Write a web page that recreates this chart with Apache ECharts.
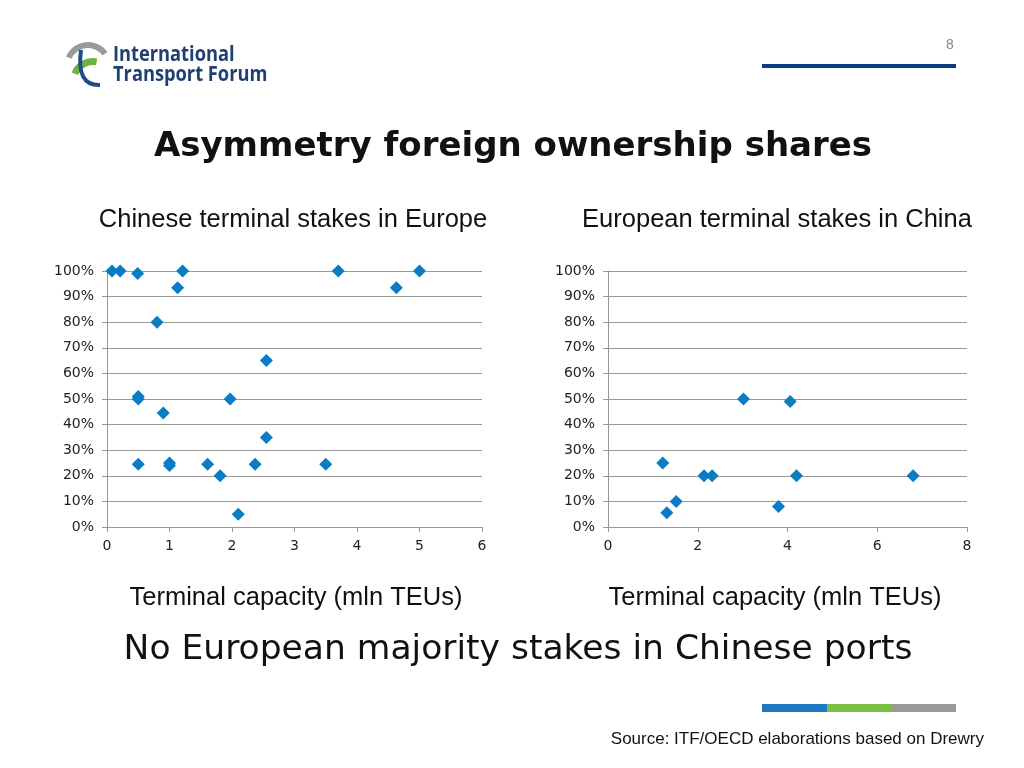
<!DOCTYPE html>
<html>
<head>
<meta charset="utf-8">
<script src="https://cdn.jsdelivr.net/npm/echarts@6/dist/echarts.min.js"></script>
<style>
  html, body { margin: 0; padding: 0; background: #fff; }
  #chart { width: 1024px; height: 768px; }
</style>
</head>
<body>
<div id="chart"></div>
<script>
// Chinese terminal stakes in Europe (capacity mln TEU, share)
const europeCapacity = [0.08, 0.21, 0.49, 1.21, 1.13, 0.8, 3.7, 4.63, 5.0, 2.55, 0.5, 0.5, 1.97, 0.9, 2.55, 0.5, 1.0, 1.0, 1.61, 1.81, 2.37, 3.5, 2.1];
const europeShare = [1.0, 1.0, 0.99, 1.0, 0.935, 0.8, 1.0, 0.935, 1.0, 0.65, 0.51, 0.5, 0.5, 0.445, 0.35, 0.245, 0.25, 0.24, 0.245, 0.2, 0.245, 0.245, 0.05];

// European terminal stakes in China
const chinaCapacity = [3.02, 4.06, 1.22, 2.14, 2.32, 4.2, 6.8, 1.52, 1.31, 3.8];
const chinaShare = [0.5, 0.49, 0.25, 0.2, 0.2, 0.2, 0.2, 0.1, 0.056, 0.08];

const leftXTicks = [0, 6, 1];   // min, max, interval
const rightXTicks = [0, 8, 2];

const pts = (xs, ys) => xs.map((x, i) => [x, ys[i]]);

const chart = echarts.init(document.getElementById("chart"));

const tickFont = { color: "#222", fontSize: 14, fontFamily: "DejaVu Sans, Verdana, sans-serif" };

const makeX = (i, t) => ({
  gridIndex: i,
  type: "value",
  min: t[0], max: t[1], interval: t[2],
  axisLine: { show: true, onZero: false, lineStyle: { color: "#999", width: 1 } },
  axisTick: { show: true, length: 5, lineStyle: { color: "#999" } },
  splitLine: { show: false },
  axisLabel: { ...tickFont, margin: 12 }
});

const makeY = (i) => ({
  gridIndex: i,
  type: "value",
  min: 0, max: 1, interval: 0.1,
  axisLine: { show: true, lineStyle: { color: "#999", width: 1 } },
  axisTick: { show: true, length: 5, lineStyle: { color: "#999" } },
  splitLine: { show: true, lineStyle: { color: "#999", width: 1 } },
  axisLabel: { ...tickFont, margin: 13, formatter: (v) => Math.round(v * 100) + "%" }
});

const dot = { color: "#0a7cc4", opacity: 1 };

const sans = "'Liberation Sans', Arial, sans-serif";

const option = {
  backgroundColor: "#fff",
  animation: false,
  grid: [
    { left: 107, right: 542, top: 271, bottom: 241 },
    { left: 608, right: 57, top: 271, bottom: 241 }
  ],
  xAxis: [makeX(0, leftXTicks), makeX(1, rightXTicks)],
  yAxis: [makeY(0), makeY(1)],
  series: [
    { type: "scatter", xAxisIndex: 0, yAxisIndex: 0, symbol: "diamond", symbolSize: 13, itemStyle: dot, data: pts(europeCapacity, europeShare) },
    { type: "scatter", xAxisIndex: 1, yAxisIndex: 1, symbol: "diamond", symbolSize: 13, itemStyle: dot, data: pts(chinaCapacity, chinaShare) }
  ],
  graphic: [
    // logo
    { type: "sector", shape: { cx: 88, cy: 66, r: 24, r0: 18, startAngle: Math.PI * 1.13, endAngle: Math.PI * 1.8 }, style: { fill: "#9a9a9a" } },
    { type: "sector", shape: { cx: 93, cy: 81, r: 23, r0: 16, startAngle: Math.PI * 1.12, endAngle: Math.PI * 1.56 }, style: { fill: "#6cb33f" } },
    { type: "bezierCurve", shape: { x1: 81, y1: 50, cpx1: 76, cpy1: 86, x2: 100, y2: 85 }, style: { stroke: "#1b4f86", lineWidth: 4, fill: null } },
    { type: "text", x: 113, y: 45, scaleX: 0.87, style: { text: "International", fill: "#1d3f72", font: "bold 21px 'Open Sans', sans-serif" } },
    { type: "text", x: 113, y: 65, scaleX: 0.87, style: { text: "Transport Forum", fill: "#1d3f72", font: "bold 21px 'Open Sans', sans-serif" } },
    // page number and top rule
    { type: "text", x: 950, y: 38, style: { text: "8", fill: "#888", align: "center", font: "14px " + sans } },
    { type: "rect", shape: { x: 762, y: 64, width: 194, height: 4 }, style: { fill: "#0b3d7c" } },
    // titles
    { type: "text", x: 513, y: 130, style: { text: "Asymmetry foreign ownership shares", fill: "#111", align: "center", font: "bold 34px 'DejaVu Sans', Verdana, sans-serif" } },
    { type: "text", x: 293, y: 207, style: { text: "Chinese terminal stakes in Europe", fill: "#111", align: "center", font: "25.5px " + sans } },
    { type: "text", x: 777, y: 207, style: { text: "European terminal stakes in China", fill: "#111", align: "center", font: "25.5px " + sans } },
    { type: "text", x: 296, y: 585, style: { text: "Terminal capacity (mln TEUs)", fill: "#111", align: "center", font: "25.5px " + sans } },
    { type: "text", x: 775, y: 585, style: { text: "Terminal capacity (mln TEUs)", fill: "#111", align: "center", font: "25.5px " + sans } },
    { type: "text", x: 518, y: 633, style: { text: "No European majority stakes in Chinese ports", fill: "#111", align: "center", font: "34.5px 'DejaVu Sans', Verdana, sans-serif" } },
    // bottom colour bar and source
    { type: "rect", shape: { x: 762, y: 704, width: 65, height: 8 }, style: { fill: "#1f78c1" } },
    { type: "rect", shape: { x: 827, y: 704, width: 64, height: 8 }, style: { fill: "#7ac143" } },
    { type: "rect", shape: { x: 891, y: 704, width: 65, height: 8 }, style: { fill: "#999" } },
    { type: "text", x: 984, y: 731, style: { text: "Source: ITF/OECD elaborations based on Drewry", fill: "#111", align: "right", font: "17px " + sans } }
  ]
};

chart.setOption(option);
window.addEventListener("resize", chart.resize);
</script>
</body>
</html>
